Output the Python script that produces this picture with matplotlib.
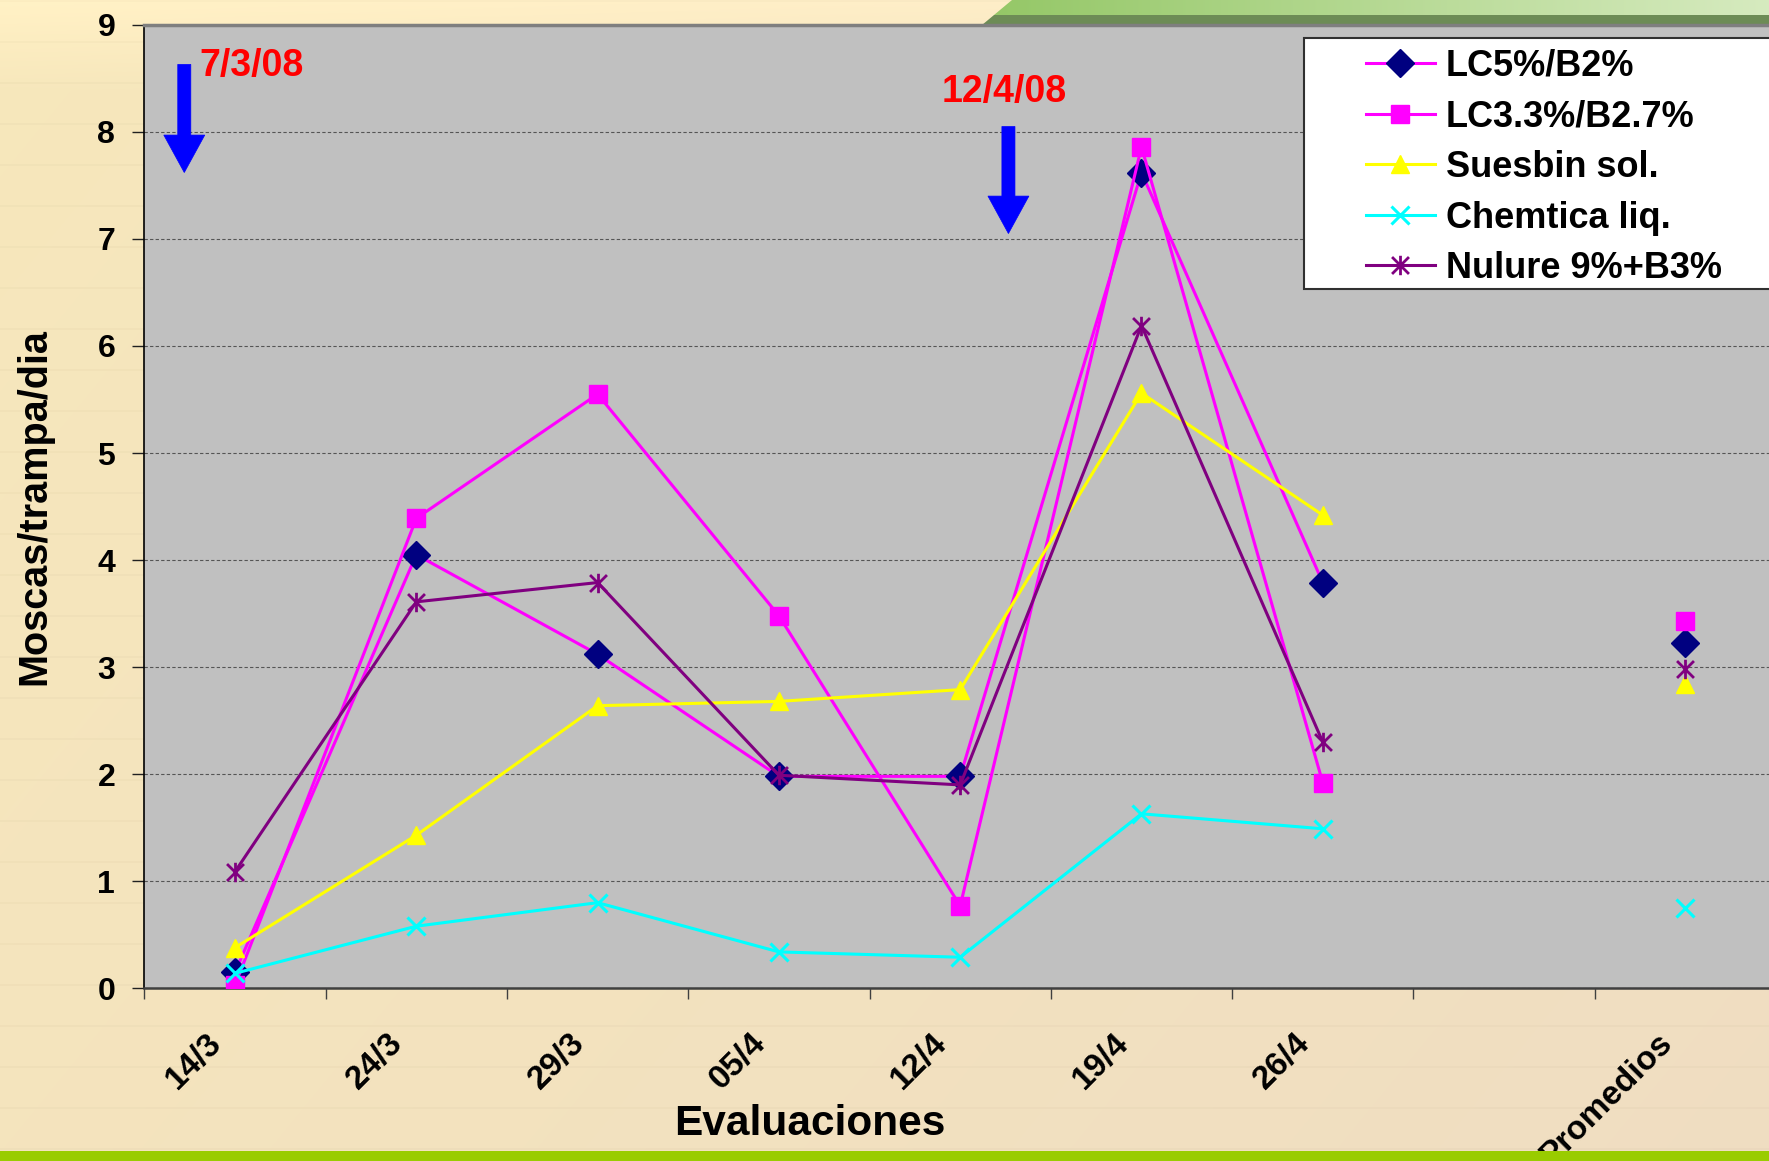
import numpy as np
import matplotlib
matplotlib.use("Agg")
import matplotlib.pyplot as plt
from matplotlib.path import Path
from matplotlib.patches import Polygon, Rectangle
import matplotlib.transforms as mtransforms

# ---- data -------------------------------------------------------------
categories = ['14/3', '24/3', '29/3', '05/4', '12/4', '19/4', '26/4', '', 'Promedios']
nan = np.nan
lc5_b2 = [0.15, 4.05, 3.12, 1.98, 1.98, 7.62, 3.79, nan, 3.23]
lc33_b27 = [0.03, 4.39, 5.55, 3.48, 0.77, 7.86, 1.92, nan, 3.43]
suesbin = [0.38, 1.43, 2.64, 2.68, 2.79, 5.56, 4.42, nan, 2.84]
chemtica = [0.14, 0.58, 0.80, 0.34, 0.29, 1.63, 1.49, nan, 0.75]
nulure = [1.09, 3.61, 3.79, 1.99, 1.90, 6.19, 2.30, nan, 2.98]
series_labels = ['LC5%/B2%', 'LC3.3%/B2.7%', 'Suesbin sol.', 'Chemtica liq.', 'Nulure 9%+B3%']
y_ticks = list(range(0, 10))
x_label = 'Evaluaciones'
y_label = 'Moscas/trampa/dia'
events = [('7/3/08', -0.28), ('12/4/08', 4.266)]

plt.rcParams['font.family'] = ['Liberation Sans', 'DejaVu Sans']
plt.rcParams['font.weight'] = 'bold'

W, H, DPI = 1769, 1161, 100
fig = plt.figure(figsize=(W / DPI, H / DPI), dpi=DPI)

# ---- textured beige backdrop ----------------------------------------
yy, xx = np.mgrid[0:H, 0:W]
t = (xx / W) * 0.65 + (yy / H) * 0.35
c_a = np.array([0.968, 0.908, 0.735])
c_b = np.array([0.940, 0.868, 0.760])
img = c_a[None, None, :] * (1 - t[..., None]) + c_b[None, None, :] * t[..., None]
top_glow = np.clip(1 - yy / 90.0, 0, 1)[..., None] * 0.04
img = img + top_glow
streak = ((yy % 41) < 2).astype(float)[..., None] * 0.018
img = np.clip(img - streak, 0, 1)
bg = fig.add_axes([0, 0, 1, 1], zorder=-10)
bg.imshow(img, aspect='auto', extent=(0, W, H, 0), interpolation='bilinear')
bg.set_xlim(0, W)
bg.set_ylim(H, 0)
bg.axis('off')

# ---- green header band (top right) ----------------------------------
band_x0 = 982
band_ax = fig.add_axes([band_x0 / W, 1 - 25 / H, (W - band_x0) / W, 25 / H], zorder=-5)
gx = np.linspace(0, 1, 400)[None, :]
gy = np.linspace(0, 1, 25)[:, None]
light_l = np.array([0.58, 0.78, 0.40])
light_r = np.array([0.84, 0.92, 0.75])
band = light_l[None, None, :] * (1 - gx[..., None]) + light_r[None, None, :] * gx[..., None]
band = band * np.ones_like(gy)[..., None]
dark = np.array([0.43, 0.55, 0.34])
band[15:, :, :] = dark
band_img = band_ax.imshow(band, aspect='auto', extent=(0, 1, 1, 0))
clip = Polygon([(0, 0), (1, 0), (1, 1), (30 / (W - band_x0), 1)], closed=True,
               transform=band_ax.transAxes, facecolor='none', edgecolor='none')
band_ax.add_patch(clip)
band_img.set_clip_path(clip)
band_ax.set_xlim(0, 1)
band_ax.set_ylim(1, 0)
band_ax.axis('off')

# ---- main axes --------------------------------------------------------
left_px, right_px = 144.4, 1776.0
top_px, bottom_px = 24.8, 988.3
ax = fig.add_axes([left_px / W, 1 - bottom_px / H,
                   (right_px - left_px) / W, (bottom_px - top_px) / H])
ax.set_facecolor('#C0C0C0')
ax.set_xlim(-0.5, len(categories) - 0.5)
ax.set_ylim(0, 9)

x = np.arange(len(categories))

star = Path([(-1, -1), (1, 1), (-1, 1), (1, -1), (0, -1.15), (0, 1.15)],
            [Path.MOVETO, Path.LINETO, Path.MOVETO, Path.LINETO, Path.MOVETO, Path.LINETO])

lw = 2.2
h1, = ax.plot(x, lc5_b2, color='#FF00FF', lw=lw, marker='D', ms=14,
              mfc='#000080', mec='#000080', mew=1, zorder=3)
h2, = ax.plot(x, lc33_b27, color='#FF00FF', lw=lw, marker='s', ms=12.5,
              mfc='#FF00FF', mec='#FF00FF', mew=1, zorder=3)
h3, = ax.plot(x, suesbin, color='#FFFF00', lw=lw, marker='^', ms=13.5,
              mfc='#FFFF00', mec='#FFFF00', mew=1, zorder=3)
h4, = ax.plot(x, chemtica, color='#00FFFF', lw=lw, marker='x', ms=13,
              mec='#00FFFF', mew=2.2, zorder=3)
h5, = ax.plot(x, nulure, color='#800080', lw=lw, marker=star, ms=14,
              mfc='none', mec='#800080', mew=2, zorder=3)

# grid
ax.set_yticks(y_ticks)
ax.yaxis.grid(True, color='#555555', linestyle=(0, (3, 2)), linewidth=0.8)
ax.set_axisbelow(True)

# ticks
ax.set_xticks(np.arange(-0.5, len(categories), 1))
ax.set_xticklabels([])
ax.set_xticks(x, minor=True)
ax.set_xticklabels(categories, minor=True, rotation=45, ha='right', va='center',
                   rotation_mode='anchor', fontsize=24, fontweight='bold')
ax.tick_params(axis='x', which='major', length=8, width=1, color='#404040', direction='out')
ax.tick_params(axis='x', which='minor', length=0, pad=36)
shift = mtransforms.ScaledTranslation(-18 / DPI, 0, fig.dpi_scale_trans)
for lbl in ax.get_xticklabels(minor=True):
    lbl.set_transform(lbl.get_transform() + shift)

ax.tick_params(axis='y', length=9, width=1, color='#202020', pad=12, labelsize=23)
for lbl in ax.get_yticklabels():
    lbl.set_fontweight('bold')

ax.spines['left'].set_color('#000000')
ax.spines['left'].set_linewidth(1.2)
ax.spines['bottom'].set_color('#404040')
ax.spines['bottom'].set_linewidth(1.8)
ax.spines['top'].set_color('#7F7F7F')
ax.spines['top'].set_linewidth(2.5)
ax.spines['right'].set_visible(False)

ax.set_ylabel(y_label, fontsize=28.5, fontweight='bold', labelpad=32)
ax.set_xlabel(x_label, fontsize=30.5, fontweight='bold')
ax.xaxis.set_label_coords(0.408, -(1135 - bottom_px) / (bottom_px - top_px))
ax.xaxis.label.set_verticalalignment('baseline')

# ---- application date arrows ------------------------------------------
arrow_geom = [(8.63, 7.97, 7.62), (8.05, 7.40, 7.05)]
shaft_hw, head_hw = 0.036, 0.113
for (label, xc), (ytop, ybase, ytip) in zip(events, arrow_geom):
    verts = [(xc - shaft_hw, ytop), (xc + shaft_hw, ytop), (xc + shaft_hw, ybase),
             (xc + head_hw, ybase), (xc, ytip), (xc - head_hw, ybase),
             (xc - shaft_hw, ybase)]
    ax.add_patch(Polygon(verts, closed=True, facecolor='#0000FF', edgecolor='#0000FF',
                         lw=0.5, zorder=4))
ax.text(-0.197, 8.52, events[0][0], color='#FF0000', fontsize=27, fontweight='bold',
        ha='left', va='baseline', zorder=4)
ax.text(3.900, 8.28, events[1][0], color='#FF0000', fontsize=27, fontweight='bold',
        ha='left', va='baseline', zorder=4)

# ---- legend -------------------------------------------------------------
frame = Rectangle((1304 / W, 1 - 289 / H), (1776 - 1304) / W, (289 - 38) / H,
                  transform=fig.transFigure, facecolor='white', edgecolor='#303030',
                  lw=1.5, zorder=4.9, clip_on=False)
ax.add_patch(frame)
leg = ax.legend([h1, h2, h3, h4, h5], series_labels, loc='upper left',
                bbox_to_anchor=(1366 / W, 1 - 49 / H), bbox_transform=fig.transFigure,
                frameon=False, borderpad=0, borderaxespad=0, handlelength=1.91,
                handletextpad=0.30, labelspacing=0.43,
                prop=dict(size=26, weight='bold'))
leg.set_zorder(6)

# ---- bottom green strip -------------------------------------------------
strip = Rectangle((0, 0), 1, 10 / H, transform=fig.transFigure,
                  facecolor='#99CC00', edgecolor='none', zorder=20)
fig.add_artist(strip)

fig.savefig('out.png', dpi=DPI)
